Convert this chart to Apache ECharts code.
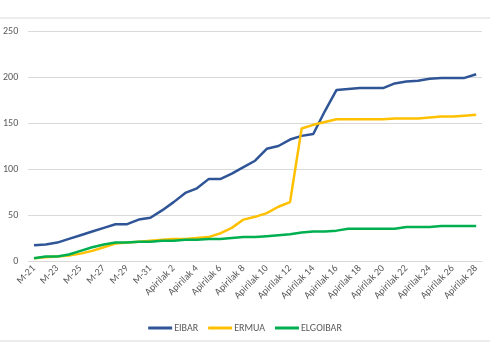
<!DOCTYPE html>
<html>
<head>
<meta charset="utf-8">
<script src="https://cdn.jsdelivr.net/npm/echarts@6/dist/echarts.min.js"></script>
<style>html,body{margin:0;padding:0;background:#fff}#c{width:490px;height:360px}</style>
</head>
<body>
<div id="c"></div>
<script>
const categories = [
  'M-21','M-22','M-23','M-24','M-25','M-26','M-27','M-28','M-29','M-30','M-31',
  'Apirilak 1','Apirilak 2','Apirilak 3','Apirilak 4','Apirilak 5','Apirilak 6','Apirilak 7','Apirilak 8','Apirilak 9','Apirilak 10',
  'Apirilak 11','Apirilak 12','Apirilak 13','Apirilak 14','Apirilak 15','Apirilak 16','Apirilak 17','Apirilak 18','Apirilak 19','Apirilak 20',
  'Apirilak 21','Apirilak 22','Apirilak 23','Apirilak 24','Apirilak 25','Apirilak 26','Apirilak 27','Apirilak 28'
];
const eibar = [17,18,20,24,28,32,36,40,40,45,47,55,64,74,79,89,89,95,102,109,122,125,132,136,138,163,186,187,188,188,188,193,195,196,198,199,199,199,203];
const ermua = [3,4,5,6,8,11,15,19,20,21,22,23,24,24,25,26,30,36,45,48,52,59,64,144,148,151,154,154,154,154,154,155,155,155,156,157,157,158,159];
const elgoibar = [3,5,5,7,11,15,18,20,20,21,21,22,22,23,23,24,24,25,26,26,27,28,29,31,32,32,33,35,35,35,35,35,37,37,37,38,38,38,38];
const seriesNames = ['EIBAR','ERMUA','ELGOIBAR'];
const yTicks = {min: 0, max: 250, interval: 50};

const chart = echarts.init(document.getElementById('c'), null, {renderer: 'canvas'});
const font = 'Carlito, Liberation Sans, Arial, sans-serif';
const legendFont = 'Carlito, Liberation Sans Narrow, Liberation Sans, Arial, sans-serif';
const mk = (name, data, color) => ({
  name, type: 'line', data, showSymbol: false, symbol: 'none',
  lineStyle: {width: 2.5, color}, itemStyle: {color}, animation: false
});
chart.setOption({
  animation: false,
  color: ['#2F5597','#FFC000','#00B050'],
  graphic: [
    {type: 'line', shape: {x1: 0, y1: 18, x2: 490, y2: 18}, style: {stroke: '#d9d9d9', lineWidth: 1}},
    {type: 'line', shape: {x1: 0, y1: 341, x2: 490, y2: 341}, style: {stroke: '#d9d9d9', lineWidth: 1}}
  ],
  grid: {left: 26, right: 8, top: 31, bottom: 99, containLabel: false},
  xAxis: {
    type: 'category', data: categories, boundaryGap: true,
    axisTick: {show: false},
    axisLine: {lineStyle: {color: '#d9d9d9', width: 1}},
    axisLabel: {interval: 1, rotate: 45, fontSize: 10, color: '#595959', margin: 6, fontFamily: font}
  },
  yAxis: {
    type: 'value', min: yTicks.min, max: yTicks.max, interval: yTicks.interval,
    axisLine: {show: false}, axisTick: {show: false},
    splitLine: {lineStyle: {color: '#d9d9d9', width: 1}},
    axisLabel: {fontSize: 10, color: '#595959', margin: 10, fontFamily: font}
  },
  legend: {
    data: seriesNames, left: 'center', top: 318,
    icon: 'rect', itemWidth: 24, itemHeight: 3, itemGap: 10,
    textStyle: {fontSize: 10, color: '#595959', fontFamily: legendFont, padding: [0, 0, 0, -3]}
  },
  series: [
    mk(seriesNames[0], eibar, '#2F5597'),
    mk(seriesNames[1], ermua, '#FFC000'),
    mk(seriesNames[2], elgoibar, '#00B050')
  ]
});
</script>
</body>
</html>
